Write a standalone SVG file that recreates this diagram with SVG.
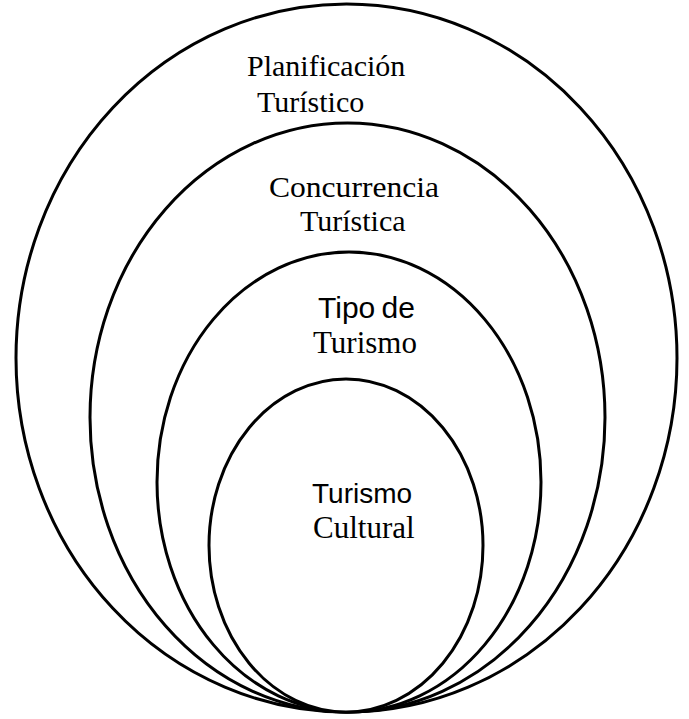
<svg xmlns="http://www.w3.org/2000/svg" width="689" height="719" viewBox="0 0 689 719">
<style>
.e{fill:#ffffff;stroke:#000000;stroke-width:3}
.serif{font-family:"Liberation Serif","Times New Roman",serif;font-size:30px;fill:#000}
.sans{font-family:"Liberation Sans",Arial,sans-serif;font-size:30px;fill:#000}
.s31{font-size:31px}
.s28{font-size:28px}
</style>
<rect width="689" height="719" fill="#ffffff"/>
<g id="planificacion">
<ellipse class="e" cx="346.5" cy="358" rx="330.5" ry="354"/>
<text class="serif" x="247" y="76">Planificación</text>
<text class="serif" x="257" y="112">Turístico</text>
</g>
<g id="concurrencia">
<ellipse class="e" cx="347.5" cy="417.5" rx="257.5" ry="294.5"/>
<text class="serif" x="269" y="197" textLength="170" lengthAdjust="spacingAndGlyphs">Concurrencia</text>
<text class="serif" x="300" y="231">Turística</text>
</g>
<g id="tipo">
<ellipse class="e" cx="349" cy="482" rx="192" ry="230"/>
<text class="sans" x="318" y="318" word-spacing="-2">Tipo de</text>
<text class="serif s31" x="313" y="353">Turismo</text>
</g>
<g id="cultural">
<ellipse class="e" cx="346" cy="545.5" rx="137" ry="166.5"/>
<text class="sans s28" x="312" y="503">Turismo</text>
<text class="serif s31" x="313" y="538">Cultural</text>
</g>
<g id="connectors"/>
</svg>
